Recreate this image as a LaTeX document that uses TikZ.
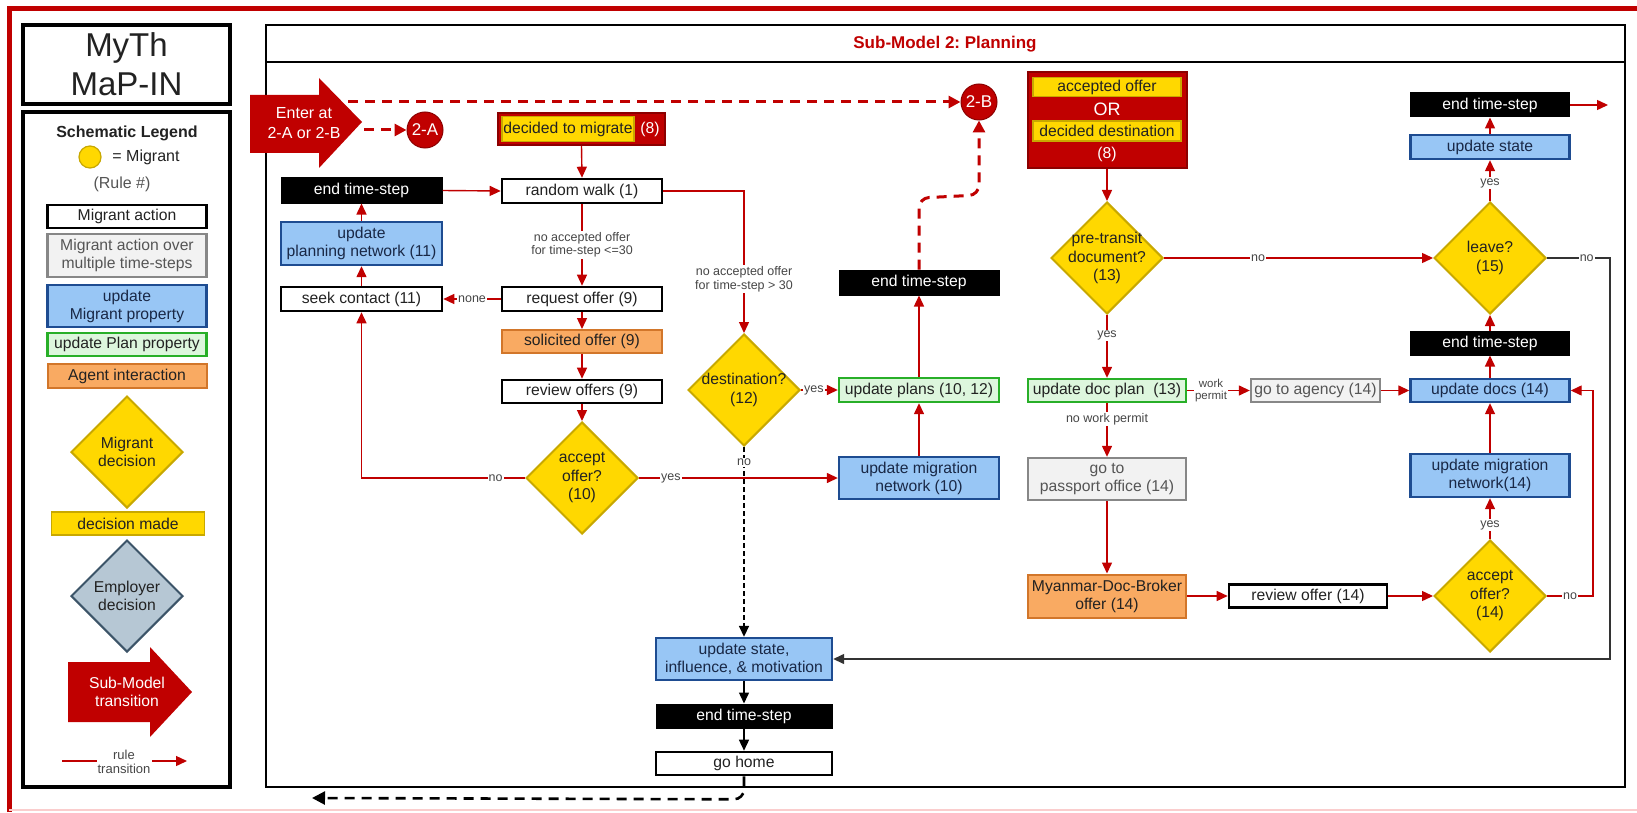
\documentclass[tikz,border=0pt]{standalone}
\usepackage{fontspec}
\setmainfont{Liberation Sans}
\usetikzlibrary{arrows.meta,shapes.geometric}
\frenchspacing

\definecolor{dred}{RGB}{192,0,0}
\definecolor{dredb}{RGB}{140,0,0}
\definecolor{yfill}{RGB}{255,216,0}
\definecolor{yedge}{RGB}{200,168,0}
\definecolor{bfill}{RGB}{152,198,245}
\definecolor{bedge}{RGB}{30,76,145}
\definecolor{btext}{RGB}{25,40,70}
\definecolor{gfill}{RGB}{221,246,221}
\definecolor{gedge}{RGB}{40,175,40}
\definecolor{ofill}{RGB}{249,170,98}
\definecolor{oedge}{RGB}{210,118,42}
\definecolor{grfill}{RGB}{242,242,242}
\definecolor{gredge}{RGB}{135,135,135}
\definecolor{grtext}{RGB}{85,85,85}
\definecolor{efill}{RGB}{182,199,212}
\definecolor{eedge}{RGB}{60,84,104}
\definecolor{lbl}{RGB}{70,70,70}
\definecolor{txt}{RGB}{34,34,34}
\definecolor{pinkline}{RGB}{250,205,205}

\tikzset{
  box/.style={rectangle, minimum width=160, minimum height=24, inner sep=0pt, align=center,
    font=\fontsize{15.7}{18}\selectfont, text=txt},
  act/.style={box, draw=black, line width=2.6pt, fill=white},
  multi/.style={box, draw=gredge, line width=2.4pt, fill=grfill, text=grtext},
  mig/.style={box, draw=bedge, line width=2.4pt, fill=bfill, text=btext},
  plan/.style={box, draw=gedge, line width=2.4pt, fill=gfill},
  agent/.style={box, draw=oedge, line width=2pt, fill=ofill},
  ets/.style={box, draw=black, fill=black, text=white, line width=1pt},
  redbox/.style={rectangle, fill=dred, draw=dredb, line width=2pt, inner sep=0pt},
  yhl/.style={box, fill=yfill, draw=yedge, line width=1.5pt},
  dec/.style={diamond, aspect=1, draw=yedge, line width=2pt, fill=yfill,
    minimum width=112, minimum height=112, inner sep=0pt},
  dlab/.style={align=center, font=\fontsize{15.7}{18.5}\selectfont, text=txt},
  rl/.style={draw=dred, line width=1.4pt, -{Triangle[length=11pt,width=10pt]}},
  kl/.style={draw=black, line width=1.5pt, -{Triangle[length=11pt,width=10pt]}},
  gl/.style={draw=black!80, line width=1.4pt, -{Triangle[length=11pt,width=10pt]}},
  kdot/.style={draw=black, line width=1.6pt, dash pattern=on 5pt off 3pt, -{Triangle[length=11pt,width=10pt]}},
  rdash/.style={draw=dred, line width=3pt, dash pattern=on 10pt off 7pt, -{Triangle[length=12pt,width=12pt]}},
  kdash/.style={draw=black, line width=2.6pt, dash pattern=on 10pt off 7pt, -{Triangle[length=13pt,width=13pt]}},
  lab/.style={fill=white, inner sep=1pt, font=\fontsize{12.5}{13.5}\selectfont, text=lbl},
  rcirc/.style={circle, fill=dred, draw=dredb, line width=1pt, minimum size=36, inner sep=0pt,
    text=white, font=\fontsize{17}{19}\selectfont},
  wtext/.style={align=center, text=white, font=\fontsize{15.7}{18}\selectfont, inner sep=0pt},
}

\begin{document}
\begin{tikzpicture}[x=1pt,y=-1pt]
\useasboundingbox (0,0) rectangle (1637,813);
\fill[white] (0,0) rectangle (1637,813);

% outer frame
\draw[dred, line width=5pt] (9,812) -- (9,9) -- (1637,9);
\draw[pinkline, line width=2pt] (9,810) -- (1637,810);

% ---------------- legend panel ----------------
\node[draw=black, line width=3.5pt, minimum width=207, minimum height=79, inner sep=0pt, align=center,
  font=\fontsize{33}{39}\selectfont, text=txt] (myth) at (126.5,64.5) {MyTh\\MaP-IN};
\node[draw=black, line width=3.5pt, minimum width=207, minimum height=675, inner sep=0pt] (legend) at (126.5,449.5) {};
\node[font=\bfseries\fontsize{16}{18}\selectfont, text=txt] (legtitle) at (127,133) {Schematic Legend};
\node[circle, draw=yedge, fill=yfill, line width=1.2pt, minimum size=22, inner sep=0pt] (legcirc) at (90,157) {};
\node[font=\fontsize{16}{18}\selectfont, text=txt] (legmig) at (146,157) {= Migrant};
\node[font=\fontsize{16}{18}\selectfont, text=grtext] (legrule) at (122,184) {(Rule \#)};
\node[act, minimum width=159, minimum height=23] (legact) at (127,216.5) {Migrant action};
\node[multi, minimum width=159, minimum height=43] (legmulti) at (127,255.5) {Migrant action over\\multiple time-steps};
\node[mig, minimum width=159, minimum height=42] (legmig2) at (127,306) {update\\Migrant property};
\node[plan, minimum width=159, minimum height=23] (legplan) at (127,344.5) {update Plan property};
\node[agent, minimum width=159, minimum height=24] (legagent) at (127,376) {Agent interaction};
\node[dec, label={[dlab]center:{Migrant\\decision}}] (legdec) at (127,452) {};
\node[yhl, minimum width=153, minimum height=23] (legmade) at (128,523.5) {decision made};
\node[dec, fill=efill, draw=eedge, label={[dlab]center:{Employer\\decision}}] (legemp) at (127,596) {};
\fill[dred] (68,662) -- (150,662) -- (150,647) -- (192,692) -- (150,737) -- (150,722) -- (68,722) -- cycle;
\node[wtext] (legsm) at (127,692) {Sub-Model\\transition};
\coordinate (lr1) at (62,761);
\coordinate (lr2) at (97,761);
\coordinate (lr3) at (152,761);
\coordinate (lr4) at (187,761);
\draw[draw=dred, line width=1.4pt] (lr1) -- (lr2);
\node[align=center, font=\fontsize{13}{14.5}\selectfont, text=lbl] (legrt) at (124,762) {rule\\transition};
\draw[rl] (lr3) -- (lr4);

% ---------------- main panel ----------------
\node[draw=black, line width=2.5pt, minimum width=1359, minimum height=762, inner sep=0pt] (mainbox) at (945.5,406) {};
\coordinate (sepl) at (266,62);
\coordinate (sepr) at (1625,62);
\draw[line width=2.5pt] (sepl) -- (sepr);
\node[font=\bfseries\fontsize{17}{20}\selectfont, text=dred] (title) at (945,44) {Sub-Model 2: Planning};

% enter arrow
\fill[dred] (250,95) -- (319,95) -- (319,78) -- (362,122) -- (319,168) -- (319,153) -- (250,153) -- cycle;
\node[wtext, font=\fontsize{16}{20}\selectfont] (enter) at (304,123) {Enter at\\2-A or 2-B};
\coordinate (ea1) at (348,102);
\coordinate (ea2) at (364,130);
\node[rcirc] (twoA) at (425,130) {2-A};
\node[rcirc] (twoB) at (979,102) {2-B};
\draw[rdash] (ea1) -- (twoB.west);
\draw[rdash] (ea2) -- (twoA.west);

% decided to migrate
\node[redbox, minimum width=167, minimum height=32] (dtmbox) at (581.5,129) {};
\node[yhl, minimum width=132, minimum height=25] (dtm) at (568,129) {decided to migrate};
\node[wtext] (dtm8) at (650,129) {(8)};

% left column
\node[ets, minimum width=161, minimum height=25] (etl) at (361.5,190.5) {end time-step};
\node[act] (rw) at (582,191) {random walk (1)};
\node[mig, minimum width=161, minimum height=43] (upn) at (361.5,243.5) {update\\planning network (11)};
\node[act, minimum width=161] (sc) at (361.5,299) {seek contact (11)};
\node[act] (ro) at (582,299) {request offer (9)};
\node[agent, minimum height=23] (so) at (582,341.5) {solicited offer (9)};
\node[act, minimum height=23] (rvo) at (582,391.5) {review offers (9)};
\node[dec, label={[dlab]center:{accept\\offer?\\(10)}}] (ao) at (582,478) {};

% middle column
\node[dec, label={[dlab]center:{destination?\\(12)}}] (dst) at (744,390) {};
\node[plan] (upl) at (919,390) {update plans (10, 12)};
\node[ets, minimum height=25] (etm) at (919,282.5) {end time-step};
\node[mig, minimum height=42] (umn) at (919,478) {update migration\\network (10)};
\node[mig, minimum width=176, minimum height=42] (usi) at (744,659) {update state,\\influence, \& motivation};
\node[ets, minimum width=176] (etb) at (744,716) {end time-step};
\node[act, minimum width=176, minimum height=23] (gh) at (744,763.5) {go home};
\coordinate (homeend) at (312,798);

% right part
\node[redbox, minimum width=159, minimum height=96] (aobox) at (1107,120) {};
\node[yhl, minimum width=148, minimum height=19] (aoff) at (1107,87) {accepted offer};
\node[wtext, font=\fontsize{18}{20}\selectfont] (ortext) at (1107,109) {OR};
\node[yhl, minimum width=148, minimum height=20] (ddest) at (1107,131) {decided destination};
\node[wtext] (ao8) at (1107,154) {(8)};

\node[dec, label={[dlab]center:{pre-transit\\document?\\(13)}}] (pt) at (1107,258) {};
\node[plan, minimum width=158, minimum height=23] (udp) at (1107,390.5) {update doc plan\ \ (13)};
\node[multi, minimum width=129, minimum height=23] (ga) at (1315.5,390.5) {go to agency (14)};
\node[multi, minimum width=158, minimum height=42] (gpo) at (1107,479) {go to\\passport office (14)};
\node[agent, minimum width=158, minimum height=43] (mdb) at (1107,596) {Myanmar-Doc-Broker\\offer (14)};
\node[act, minimum width=158, minimum height=23] (rvo14) at (1308,596) {review offer (14)};

\node[ets, minimum width=159] (ettr) at (1490,105) {end time-step};
\coordinate (outR) at (1608,105);
\node[mig, minimum width=159] (us) at (1490,147) {update state};
\node[dec, label={[dlab]center:{leave?\\(15)}}] (lv) at (1490,258) {};
\node[ets, minimum width=159] (etrm) at (1490,343) {end time-step};
\node[mig, minimum width=159, minimum height=23] (ud) at (1490,390.5) {update docs (14)};
\node[mig, minimum width=159, minimum height=43] (umn14) at (1490,475.5) {update migration\\network(14)};
\node[dec, label={[dlab]center:{accept\\offer?\\(14)}}] (ao14) at (1490,596) {};

% ---------------- connectors ----------------
\draw[rl] (dtmbox.south) -- (rw.north);
\draw[rl] (etl.east) -- (rw.west);
\draw[rl] (rw.south) -- node[lab, align=center]{no accepted offer\\for time-step <=30} (ro.north);
\draw[rl] (ro.west) -- node[lab]{none} (sc.east);
\draw[rl] (ro.south) -- (so.north);
\draw[rl] (so.south) -- (rvo.north);
\draw[rl] (rvo.south) -- (ao.north);
\draw[rl] (ao.west) -| node[lab, pos=0.09]{no} (sc.south);
\draw[rl] (sc.north) -- (upn.south);
\draw[rl] (upn.north) -- (etl.south);
\draw[rl] (rw.east) -| node[lab, align=center, pos=0.81]{no accepted offer\\for time-step > 30} (dst.north);
\draw[rl] (dst.east) -- node[lab, pos=0.35]{yes} (upl.west);
\draw[rl] (ao.east) -- node[lab, pos=0.16]{yes} (umn.west);
\draw[rl] (umn.north) -- (upl.south);
\draw[rl] (upl.north) -- (etm.south);
\draw[rdash, rounded corners=10] (etm.north) -- (919,198) -- (979,195) -- (twoB.south);

\draw[kdot] (dst.south) -- node[lab, pos=0.08]{no} (usi.north);
\draw[kl] (usi.south) -- (etb.north);
\draw[kl] (etb.south) -- (gh.north);
\draw[kdash] (gh.south) -- ++(0,13) to[out=-90,in=0] ++(-10,10) -- (homeend);

\draw[rl] (aobox.south) -- (pt.north);
\draw[rl] (pt.east) -- node[lab, pos=0.35]{no} (lv.west);
\draw[rl] (pt.south) -- node[lab, pos=0.33]{yes} (udp.north);
\draw[rl] (udp.east) -- node[lab, align=center, font=\fontsize{11.5}{12.5}\selectfont, pos=0.38]{work\\permit} (ga.west);
\draw[rl] (ga.east) -- (ud.west);
\draw[rl] (udp.south) -- node[lab, pos=0.3]{no work permit} (gpo.north);
\draw[rl] (gpo.south) -- (mdb.north);
\draw[rl] (mdb.east) -- (rvo14.west);
\draw[rl] (rvo14.east) -- (ao14.west);
\draw[rl] (ao14.north) -- node[lab, pos=0.34]{yes} (umn14.south);
\draw[rl] (umn14.north) -- (ud.south);
\draw[rl] (ao14.east) -- node[lab]{no} ++(46,0) |- (ud.east);
\draw[rl] (ud.north) -- (etrm.south);
\draw[rl] (etrm.north) -- (lv.south);
\draw[rl] (lv.north) -- node[lab, pos=0.44]{yes} (us.south);
\draw[rl] (us.north) -- (ettr.south);
\draw[rl] (ettr.east) -- (outR);
\draw[gl] (lv.east) -- node[lab, pos=0.63]{no} ++(63,0) |- (usi.east);
\end{tikzpicture}
\end{document}
